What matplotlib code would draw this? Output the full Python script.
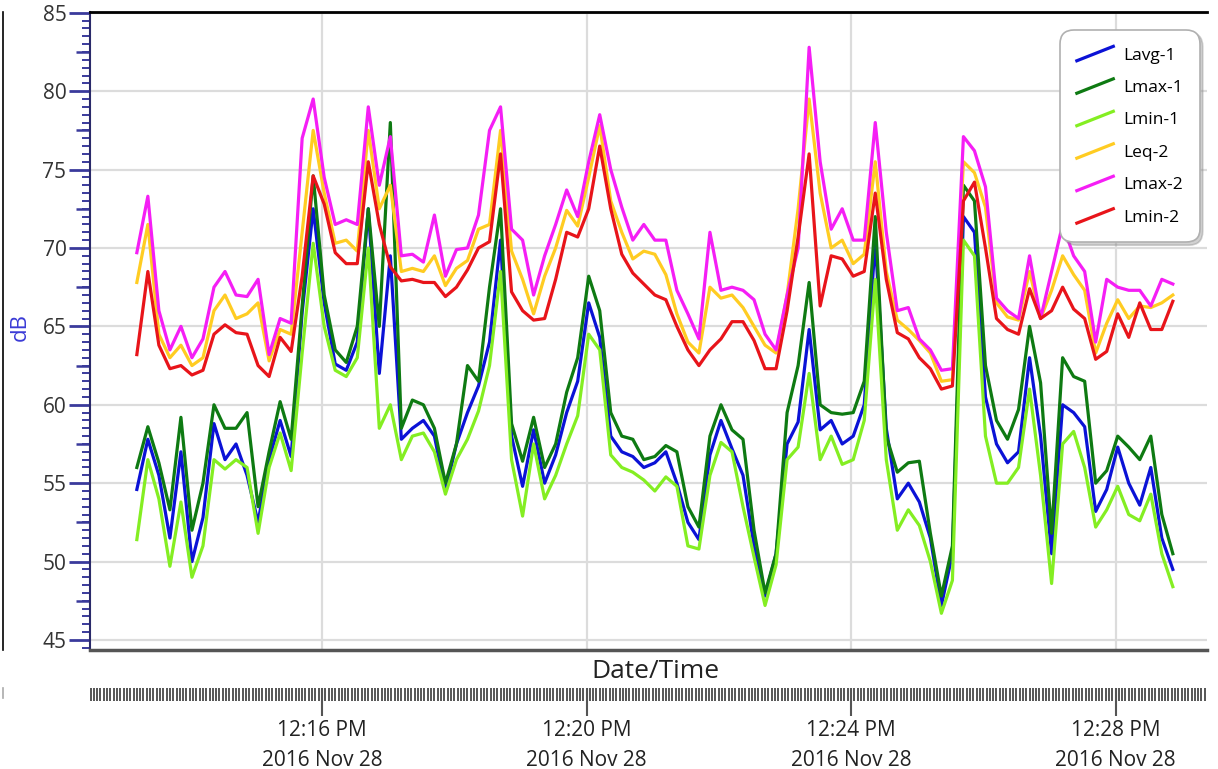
import numpy as np
import pandas as pd
import matplotlib
matplotlib.use('Agg')
import matplotlib.pyplot as plt
import matplotlib.dates as mdates
from matplotlib.lines import Line2D
from matplotlib.legend_handler import HandlerBase
from matplotlib.ticker import MultipleLocator

plt.rcParams['font.family'] = ['Open Sans', 'DejaVu Sans']

# samples every 10 s, 2016-11-28 12:13:12 .. 12:28:52
times = pd.date_range('2016-11-28 12:13:12', periods=95, freq='10s')

lavg1 = [54.6, 57.8, 55.5, 51.5, 57.0, 50.0, 52.8, 58.8, 56.5, 57.5,
         55.5, 52.5, 56.5, 59.0, 56.7, 65.9, 72.5, 66.5, 62.6, 62.2,
         64.0, 72.5, 62.0, 69.5, 57.8, 58.5, 59.0, 58.0, 54.5, 57.5,
         59.5, 61.2, 64.0, 70.5, 58.0, 54.8, 58.4, 55.0, 56.8, 59.5,
         61.5, 66.5, 64.3, 58.0, 57.0, 56.7, 56.0, 56.3, 57.0, 55.0,
         52.5, 51.4, 56.8, 59.0, 57.2, 55.5, 51.0, 47.8, 50.5, 57.5,
         58.9, 64.8, 58.4, 59.0, 57.5, 58.0, 60.0, 70.5, 58.5, 54.0,
         55.0, 53.8, 51.5, 47.2, 50.5, 72.0, 71.0, 60.5, 57.5, 56.3,
         57.0, 63.0, 58.0, 50.5, 60.0, 59.5, 58.6, 53.2, 54.6, 57.3,
         55.0, 53.6, 56.0, 51.5, 49.5]

lmax1 = [56.0, 58.6, 56.3, 53.3, 59.2, 52.0, 55.0, 60.0, 58.5, 58.5,
         59.5, 53.5, 57.0, 60.2, 57.8, 66.3, 74.6, 67.0, 63.5, 62.7,
         65.0, 72.5, 65.0, 78.0, 58.5, 60.3, 60.0, 58.5, 55.0, 57.5,
         62.5, 61.5, 67.5, 72.5, 58.8, 56.4, 59.2, 56.0, 57.5, 60.8,
         63.0, 68.2, 66.0, 59.5, 58.0, 57.8, 56.5, 56.7, 57.4, 57.0,
         53.5, 52.2, 58.0, 60.0, 58.4, 57.8, 52.0, 48.0, 50.5, 59.5,
         62.5, 67.8, 60.0, 59.5, 59.4, 59.5, 61.5, 72.0, 58.0, 55.7,
         56.3, 56.4, 51.8, 47.8, 51.0, 74.0, 73.0, 62.5, 59.0, 57.8,
         59.7, 65.0, 61.4, 51.8, 63.0, 61.8, 61.5, 55.0, 55.8, 58.0,
         57.3, 56.5, 58.0, 53.0, 50.5]

lmin1 = [51.4, 56.5, 54.0, 49.7, 53.8, 49.0, 51.0, 56.5, 55.9, 56.5,
         56.0, 51.8, 56.0, 58.2, 55.8, 63.3, 70.3, 65.0, 62.2, 61.8,
         63.0, 70.0, 58.5, 60.0, 56.5, 58.0, 58.2, 57.0, 54.3, 56.5,
         57.8, 59.6, 62.5, 68.5, 56.5, 52.9, 57.5, 54.0, 55.5, 57.5,
         59.3, 64.5, 63.5, 56.8, 56.0, 55.7, 55.2, 54.5, 55.4, 54.8,
         51.0, 50.8, 55.5, 57.6, 57.0, 53.5, 50.3, 47.2, 49.8, 56.5,
         57.3, 62.0, 56.5, 58.0, 56.2, 56.5, 59.0, 68.0, 56.5, 52.0,
         53.3, 52.3, 50.0, 46.7, 48.8, 70.5, 69.5, 58.0, 55.0, 55.0,
         56.0, 61.0, 55.5, 48.6, 57.5, 58.3, 56.0, 52.2, 53.3, 54.8,
         53.0, 52.6, 54.3, 50.5, 48.4]

leq2 = [67.8, 71.5, 64.5, 63.0, 63.8, 62.5, 63.0, 66.0, 67.0, 65.5,
        65.8, 66.5, 62.8, 64.8, 64.5, 71.0, 77.5, 73.5, 70.3, 70.5,
        69.8, 77.5, 72.5, 74.0, 68.5, 68.7, 68.5, 69.5, 67.6, 68.7,
        69.2, 71.2, 71.5, 77.5, 69.8, 68.0, 65.8, 68.2, 70.0, 72.4,
        71.4, 74.5, 77.8, 73.0, 71.0, 69.3, 69.8, 69.6, 68.3, 65.8,
        64.0, 63.3, 67.5, 66.8, 67.0, 66.2, 65.0, 63.8, 63.3, 67.0,
        72.5, 79.5, 73.5, 70.0, 70.5, 69.0, 69.6, 75.5, 68.5, 65.4,
        64.8, 64.1, 63.3, 61.5, 61.6, 75.5, 74.8, 72.6, 66.5, 65.6,
        65.4, 68.5, 65.5, 67.3, 69.5, 68.3, 67.3, 63.3, 65.2, 66.7,
        65.5, 66.3, 66.2, 66.5, 67.0]

lmax2 = [69.7, 73.3, 66.0, 63.5, 65.0, 63.0, 64.2, 67.5, 68.5, 67.0,
         66.9, 68.0, 63.2, 65.5, 65.2, 77.0, 79.5, 74.5, 71.5, 71.8,
         71.5, 79.0, 74.0, 77.1, 69.5, 69.6, 69.1, 72.1, 68.2, 69.9,
         70.0, 72.1, 77.5, 79.0, 71.2, 70.5, 67.0, 69.5, 71.5, 73.7,
         72.0, 75.5, 78.5, 75.0, 72.6, 70.5, 71.5, 70.5, 70.5, 67.3,
         65.8, 64.2, 71.0, 67.3, 67.5, 67.3, 66.7, 64.5, 63.5, 67.0,
         70.0, 82.8, 75.5, 71.2, 72.5, 70.5, 70.5, 78.0, 71.0, 66.0,
         66.2, 64.2, 63.5, 62.2, 62.3, 77.1, 76.2, 73.9, 66.8, 66.0,
         65.5, 69.5, 65.5, 68.5, 71.5, 69.5, 68.5, 64.0, 68.0, 67.5,
         67.3, 67.3, 66.3, 68.0, 67.7]

lmin2 = [63.2, 68.5, 63.8, 62.3, 62.5, 61.9, 62.2, 64.5, 65.1, 64.6,
         64.5, 62.5, 61.8, 64.3, 63.4, 68.2, 74.6, 72.8, 69.7, 69.0,
         69.0, 75.5, 71.5, 68.8, 67.9, 68.0, 67.8, 67.8, 66.9, 67.5,
         68.6, 70.0, 70.4, 76.0, 67.2, 66.0, 65.4, 65.5, 68.0, 71.0,
         70.7, 72.5, 76.5, 72.5, 69.6, 68.4, 67.7, 67.0, 66.7, 65.0,
         63.5, 62.5, 63.5, 64.2, 65.3, 65.3, 64.1, 62.3, 62.3, 66.0,
         70.7, 76.0, 66.3, 69.5, 69.3, 68.2, 68.5, 73.5, 68.0, 64.6,
         64.2, 63.0, 62.3, 61.0, 61.2, 73.0, 74.2, 70.0, 65.5, 64.8,
         64.5, 67.4, 65.5, 66.0, 67.5, 66.1, 65.5, 62.9, 63.4, 65.8,
         64.3, 66.5, 64.8, 64.8, 66.6]

names = ['Lavg-1', 'Lmax-1', 'Lmin-1', 'Leq-2', 'Lmax-2', 'Lmin-2']
colors = ['#0b12d6', '#0e7a12', '#84ee22', '#ffcc22', '#f51ef5', '#e8141a']

tick_times = pd.to_datetime(['2016-11-28 12:16', '2016-11-28 12:20',
                             '2016-11-28 12:24', '2016-11-28 12:28'])
tick_labels = ['12:16 PM\n2016 Nov 28', '12:20 PM\n2016 Nov 28',
               '12:24 PM\n2016 Nov 28', '12:28 PM\n2016 Nov 28']


class DiagHandler(HandlerBase):
    # slanted legend lines like the original control
    def create_artists(self, legend, orig_handle, xdescent, ydescent,
                       width, height, fontsize, trans):
        ln = Line2D([-xdescent, -xdescent + width], [-ydescent, -ydescent + height],
                    color=orig_handle.get_color(), lw=orig_handle.get_linewidth())
        ln.set_transform(trans)
        return [ln]


W, H = 1218, 769
fig = plt.figure(figsize=(W / 100, H / 100), dpi=100)
left, right = 90 / W, 1207 / W
ax = fig.add_axes([left, 1 - 650 / H, right - left, (650 - 12) / H])

for name, vals, col in zip(names, [lavg1, lmax1, lmin1, leq2, lmax2, lmin2], colors):
    ax.plot(times, vals, color=col, lw=2.3, label=name)

x0 = pd.Timestamp('2016-11-28 12:12:29.5')
x1 = pd.Timestamp('2016-11-28 12:29:23')
ax.set_xlim(x0, x1)
ax.set_ylim(44.36, 85.05)

ax.set_xticks(tick_times)
ax.tick_params(axis='x', which='both', length=0, labelbottom=False)
ax.yaxis.set_major_locator(MultipleLocator(5))
ax.yaxis.set_minor_locator(MultipleLocator(0.5))
ax.tick_params(axis='y', which='major', length=15, width=2, color='#3a3a9c',
               labelsize=15, labelcolor='#333333', pad=2)
ax.tick_params(axis='y', which='minor', length=6, width=1.4, color='#3a3a9c')
ax.grid(True, which='major', color='#dcdcdc', lw=1.6)
ax.set_axisbelow(True)

# medium ticks at the half-way marks
sec = ax.secondary_yaxis('left')
sec.set_ticks(np.arange(47.5, 85, 5))
sec.tick_params(length=10, width=1.8, color='#3a3a9c', labelleft=False)
sec.spines['left'].set_visible(False)

ax.spines['right'].set_visible(False)
ax.spines['top'].set_color('black')
ax.spines['top'].set_linewidth(2)
ax.spines['left'].set_color('#2a2a6a')
ax.spines['left'].set_linewidth(1.5)
ax.spines['bottom'].set_color('#555555')
ax.spines['bottom'].set_linewidth(2.5)

leg = ax.legend(handler_map={Line2D: DiagHandler()}, loc='upper right',
                bbox_to_anchor=(0.9937, 0.972), borderaxespad=0, fontsize=12.5,
                handlelength=2.1, handleheight=0.9, labelspacing=0.88,
                borderpad=0.95, handletextpad=0.6, fancybox=True,
                shadow={'color': '0.55', 'alpha': 0.4}, framealpha=1,
                edgecolor='#b0b0b0')
leg.get_frame().set_boxstyle('round,pad=0,rounding_size=0.8')
leg.get_frame().set_linewidth(1.2)

# separate strip holding the time ticks below the title
axs = fig.add_axes([left, 1 - 688 / H, right - left, 0.001])
axs.set_xlim(x0, x1)
axs.patch.set_visible(False)
for s in axs.spines.values():
    s.set_visible(False)
axs.set_yticks([])
axs.set_xticks(tick_times)
axs.set_xticklabels(tick_labels, linespacing=1.55)
axs.xaxis.set_minor_locator(mdates.SecondLocator(bysecond=range(0, 60, 3)))
axs.tick_params(axis='x', which='major', length=20, width=1.5, color='#555555',
                labelsize=15, labelcolor='#222222', pad=3)
axs.tick_params(axis='x', which='minor', length=9, width=1.4, color='#555555')

fig.text(20 / W, 1 - 327 / H, 'dB', rotation=90, color='#3b3bd6', fontsize=16,
         ha='center', va='center')
fig.text(655 / W, 1 - 672 / H, 'Date/Time', fontsize=19, color='#222222',
         ha='center', va='center')

# border of the neighbouring panel on the far left
fig.add_artist(Line2D([3 / W, 3 / W], [1 - 12 / H, 1 - 650 / H], color='black',
                      lw=1.2, transform=fig.transFigure))
fig.add_artist(Line2D([3 / W, 3 / W], [1 - 688 / H, 1 - 698 / H], color='#aaaaaa',
                      lw=1.2, transform=fig.transFigure))

fig.savefig('out.png', dpi=100)
